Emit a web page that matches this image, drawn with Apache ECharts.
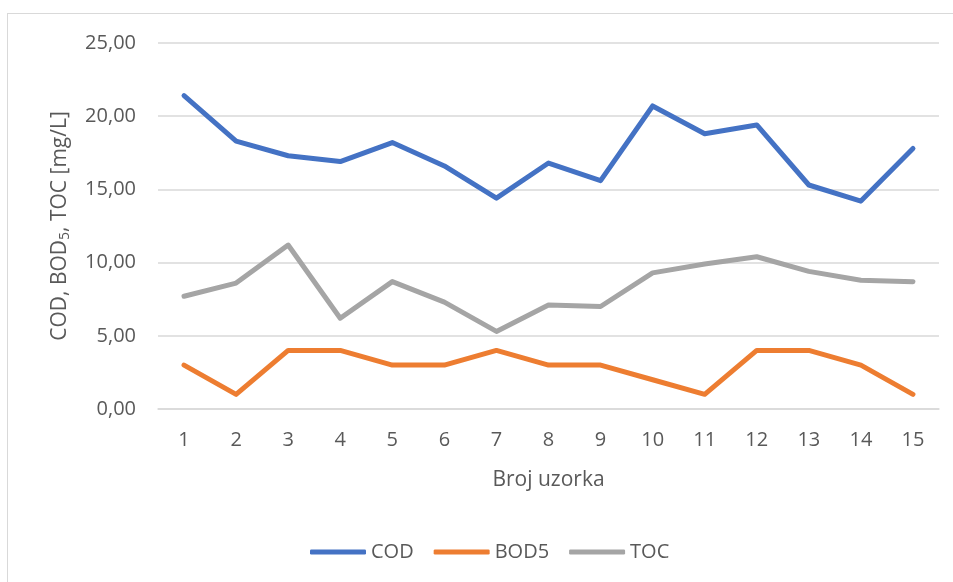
<!DOCTYPE html>
<html>
<head>
<meta charset="utf-8">
<script src="https://cdn.jsdelivr.net/npm/echarts@6/dist/echarts.min.js"></script>
<style>
html, body { margin: 0; padding: 0; background: #ffffff; }
#frame { position: absolute; left: 7px; top: 13px; width: 1000px; height: 600px; border: 1.5px solid #d9d9d9; }
#chart { position: absolute; left: 0; top: 0; width: 953px; height: 582px; }
</style>
</head>
<body>
<div id="frame"></div>
<div id="chart"></div>
<script>
// uzorci 1..15
var categories = ['1', '2', '3', '4', '5', '6', '7', '8', '9', '10', '11', '12', '13', '14', '15']
var codValues = [21.4, 18.3, 17.3, 16.9, 18.2, 16.6, 14.4, 16.8, 15.6, 20.7, 18.8, 19.4, 15.3, 14.2, 17.8]
var bod5Values = [3, 1, 4, 4, 3, 3, 4, 3, 3, 2, 1, 4, 4, 3, 1]
var tocValues = [7.7, 8.6, 11.2, 6.2, 8.7, 7.3, 5.3, 7.1, 7.0, 9.3, 9.9, 10.4, 9.4, 8.8, 8.7]
var yTicks = { min: 0, max: 25, interval: 5 }

var font = '"Open Sans", "Liberation Sans", sans-serif'
var textColor = '#595959'

var chart = echarts.init(document.getElementById('chart'))

function lineSeries (name, data, color) {
  return {
    name: name,
    type: 'line',
    data: data,
    symbol: 'none',
    lineStyle: { width: 5, color: color, cap: 'round', join: 'round' },
    itemStyle: { color: color },
    animation: false
  }
}

var option = {
  animation: false,
  textStyle: { fontFamily: font },
  grid: { left: 158, right: 14, top: 43, bottom: 173 },
  legend: {
    top: 537,
    left: 305,
    itemWidth: 56,
    itemHeight: 5,
    itemGap: 20,
    icon: 'roundRect',
    textStyle: { color: textColor, fontSize: 20, fontFamily: font },
    data: ['COD', 'BOD5', 'TOC']
  },
  xAxis: {
    type: 'category',
    data: categories,
    boundaryGap: true,
    name: 'Broj uzorka',
    nameLocation: 'middle',
    nameGap: 61,
    nameTextStyle: { color: textColor, fontSize: 21, fontFamily: font },
    axisLine: { show: true, lineStyle: { color: '#d9d9d9', width: 1.5 } },
    axisTick: { show: false },
    axisLabel: { color: textColor, fontSize: 20, margin: 21, fontFamily: font }
  },
  yAxis: {
    type: 'value',
    min: yTicks.min,
    max: yTicks.max,
    interval: yTicks.interval,
    name: 'COD, BOD{sub|5}, TOC [mg/L]',
    nameLocation: 'middle',
    nameGap: 86,
    nameRotate: 90,
    nameTextStyle: {
      color: textColor,
      fontSize: 21,
      fontFamily: font,
      rich: {
        sub: { fontSize: 14, color: textColor, fontFamily: font, verticalAlign: 'bottom', padding: [10, 0, 0, 0] }
      }
    },
    axisLine: { show: false },
    axisTick: { show: false },
    splitLine: { lineStyle: { color: '#d9d9d9', width: 1.5 } },
    axisLabel: {
      color: textColor,
      fontSize: 20,
      margin: 22,
      fontFamily: font,
      formatter: function (v) { return v.toFixed(2).replace('.', ',') }
    }
  },
  series: [
    lineSeries('COD', codValues, '#4472c4'),
    lineSeries('BOD5', bod5Values, '#ed7d31'),
    lineSeries('TOC', tocValues, '#a5a5a5')
  ]
}

chart.setOption(option)
</script>
</body>
</html>
